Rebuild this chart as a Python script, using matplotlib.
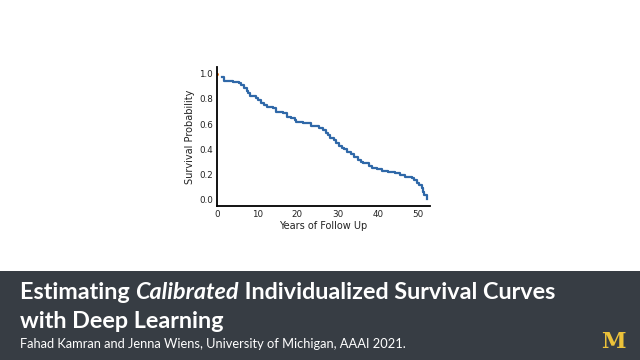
import matplotlib
matplotlib.use("Agg")
import matplotlib.pyplot as plt
import matplotlib.patches as patches

# Kaplan-Meier style survival curve
years = [1.25, 1.7, 3.9, 5.4, 6.0, 6.8, 7.5, 7.8, 8.3, 9.6, 10.3, 11.0, 11.75,
         12.4, 13.9, 14.75, 16.4, 17.3, 18.5, 19.3, 19.6, 21.4, 22.6, 23.5,
         25.5, 26.3, 27.0, 27.5, 28.1, 29.0, 29.6, 30.3, 31.0, 31.6, 32.4,
         33.4, 34.0, 35.0, 35.8, 36.4, 37.7, 38.5, 39.7, 41.1, 42.6, 44.2,
         45.5, 46.7, 48.4, 49.0, 49.8, 50.3, 51.0, 51.3, 51.6, 52.3]
surv = [0.973, 0.947, 0.936, 0.925, 0.912, 0.886, 0.866, 0.846, 0.82, 0.81,
        0.79, 0.77, 0.755, 0.74, 0.73, 0.70, 0.686, 0.654, 0.646, 0.63, 0.62,
        0.61, 0.606, 0.588, 0.566, 0.553, 0.53, 0.513, 0.487, 0.47, 0.45,
        0.428, 0.41, 0.40, 0.38, 0.36, 0.34, 0.314, 0.295, 0.287, 0.269,
        0.247, 0.239, 0.229, 0.218, 0.207, 0.194, 0.18, 0.173, 0.154, 0.133,
        0.114, 0.088, 0.06, 0.035, 0.0]
start_t = [0]
start_s = [1.0]

xticks = [0, 10, 20, 30, 40, 50]
yticks = [0.0, 0.2, 0.4, 0.6, 0.8, 1.0]

title_parts = [("Estimating ", "normal"), ("Calibrated", "italic"),
               (" Individualized Survival Curves", "normal")]
title_line2 = "with Deep Learning"
subtitle = "Fahad Kamran and Jenna Wiens, University of Michigan, AAAI 2021."

fig = plt.figure(figsize=(6.4, 3.6), dpi=100)
fig.patch.set_facecolor("white")

ax = fig.add_axes([217 / 640, 1 - 206 / 360, 213 / 640, 139 / 360])
ax.step(years, surv, where="post", color="#2f68a8", lw=1.6)
ax.plot(start_t, start_s, "o", color="#f07f1f", ms=1.2)
ax.set_xlim(0, 53)
ax.set_ylim(-0.053, 1.055)
ax.set_xticks(xticks)
ax.set_yticks(yticks)
ax.set_yticklabels([f"{v:.1f}" for v in yticks])
ax.tick_params(length=0, labelsize=6.3, pad=3, colors="#222222")
for s in ["top", "right"]:
    ax.spines[s].set_visible(False)
for s in ["left", "bottom"]:
    ax.spines[s].set_linewidth(1.3)
    ax.spines[s].set_color("black")
ax.set_xlabel("Years of Follow Up", fontsize=7, labelpad=1, color="#222222")
ax.set_ylabel("Survival Probability", fontsize=7, labelpad=3, color="#222222")

# bottom banner
fig.patches.append(patches.Rectangle((0, 0), 1, 89 / 360, transform=fig.transFigure,
                                     facecolor="#373d44", edgecolor="none", zorder=0))

fam = ["Lato", "DejaVu Sans"]
renderer = fig.canvas.get_renderer()
x = 20 / 640
for txt, style in title_parts:
    t = fig.text(x, 1 - 299 / 360, txt, color="white", fontsize=16.8,
                 fontweight="bold", fontstyle=style, family=fam, va="baseline")
    bb = t.get_window_extent(renderer)
    x += bb.width / 640
fig.text(20 / 640, 1 - 328 / 360, title_line2, color="white", fontsize=16.8,
         fontweight="bold", family=fam, va="baseline")
fig.text(20 / 640, 1 - 348 / 360, subtitle, color="white", fontsize=9.3,
         family=fam, va="baseline")
fig.text(613.5 / 640, 1 - 342 / 360, "M", color="#ecc23a", fontsize=16,
         fontweight="bold", family="DejaVu Serif", ha="center", va="center")

fig.savefig("out.png", dpi=100)
